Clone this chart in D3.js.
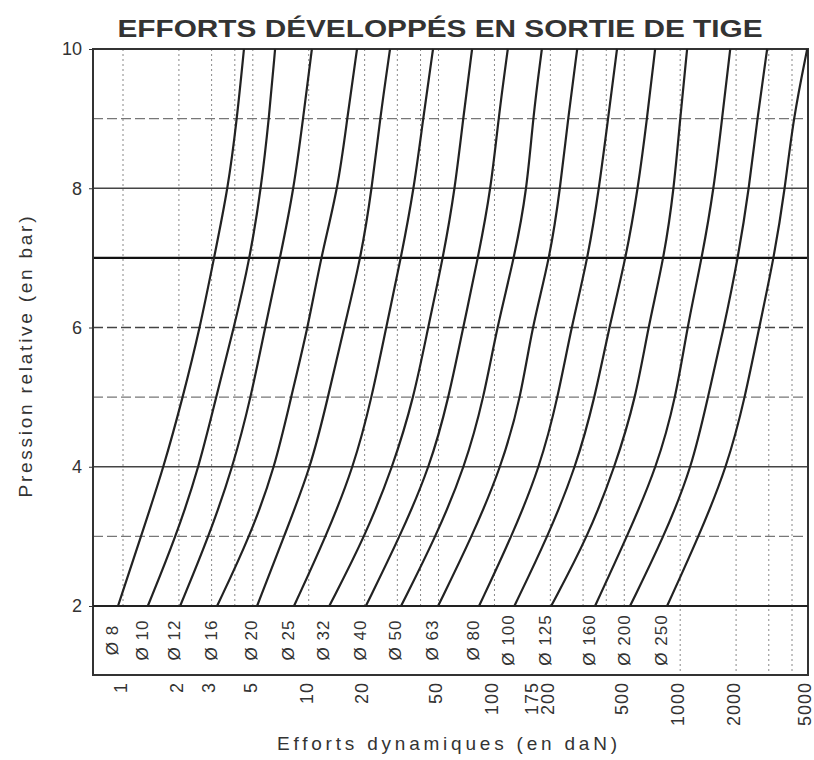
<!DOCTYPE html>
<html>
<head>
<meta charset="utf-8">
<script src="https://cdn.jsdelivr.net/npm/d3@7"></script>
<style>
  body { margin: 0; background: #fff; }
  text { font-family: "Liberation Sans", Arial, sans-serif; fill: #333; }
</style>
</head>
<body>
<script>
// pressures read on the chart (bar)
var pressures = [2, 3, 4, 5, 6, 7, 8, 9, 10];
// rod diameters (mm), one curve each
var diameters = [8, 10, 12, 16, 20, 25, 32, 40, 50, 63, 80, 100, 125, 160, 200, 250];
// dynamic effort (daN) read for each diameter, one value per pressure above
var efforts = [
  [0.94, 1.25, 1.66, 2.10, 2.60, 3.09, 3.68, 4.11, 4.48],
  [1.36, 1.93, 2.57, 3.17, 3.96, 4.83, 5.54, 6.11, 6.59],
  [2.03, 2.90, 3.91, 4.89, 5.82, 7.01, 8.33, 9.32, 10.4],
  [3.21, 4.83, 6.59, 8.03, 9.91, 11.6, 14.4, 16.1, 18.2],
  [5.27, 7.36, 10.3, 12.7, 15.5, 19.1, 21.9, 24.2, 27.4],
  [8.33, 12.4, 17.5, 21.9, 26.1, 31.4, 36.9, 41.3, 46.7],
  [12.9, 20.1, 28.4, 36.9, 43.9, 52.9, 61.4, 67.8, 75.8],
  [20.3, 31.0, 45.0, 56.9, 67.8, 81.6, 95.9, 105, 118],
  [31.4, 48.5, 69.4, 87.9, 103, 128, 150, 161, 180],
  [49.7, 75.8, 109, 139, 159, 199, 226, 249, 279],
  [82.6, 124, 176, 220, 259, 319, 366, 409, 457],
  [128, 194, 275, 348, 414, 511, 593, 663, 733],
  [202, 319, 446, 579, 671, 819, 927, 999, 1090],
  [348, 518, 751, 950, 1090, 1310, 1520, 1680, 1860],
  [537, 819, 1160, 1410, 1720, 2050, 2350, 2600, 2940],
  [850, 1260, 1790, 2240, 2660, 3200, 3670, 4060, 4830]
];
var xTicks = [1, 2, 3, 5, 10, 20, 50, 100, 175, 200, 500, 1000, 2000, 5000];
var xGrid = [1, 2, 3, 4, 5, 10, 20, 30, 40, 50, 100, 200, 300, 400, 500, 1000, 2000, 3000, 4000];
var yTicks = [2, 4, 6, 8, 10];
var yGrid = [3, 4, 5, 6, 7, 8, 9];

var W = 814, H = 760;
var plotLeft = 93, plotRight = 808, plotTop = 49, plotBottom = 675;

var svg = d3.select("body").append("svg")
  .attr("width", W)
  .attr("height", H);

var x = d3.scaleLog().domain([1, 5000]).range([123, 810]);
var y = d3.scaleLinear().domain([2, 10]).range([606, plotTop]);

// vertical dotted grid
svg.append("g")
  .selectAll("line")
  .data(xGrid)
  .enter()
  .append("line")
  .attr("x1", function (d) { return x(d); })
  .attr("x2", function (d) { return x(d); })
  .attr("y1", plotTop)
  .attr("y2", function (d) { return d >= 1000 ? plotBottom : y(2); })
  .attr("stroke", "#888")
  .attr("stroke-width", 1)
  .attr("stroke-dasharray", "2,3");

// horizontal grid
svg.append("g")
  .selectAll("line")
  .data(yGrid)
  .enter()
  .append("line")
  .attr("x1", plotLeft)
  .attr("x2", plotRight)
  .attr("y1", function (d) { return y(d); })
  .attr("y2", function (d) { return y(d); })
  .attr("stroke", function (d) { return d === 7 ? "#111" : (d % 2 === 0 ? "#444" : "#777"); })
  .attr("stroke-width", function (d) { return d === 7 ? 2.2 : 1.4; })
  .attr("stroke-dasharray", function (d) { return (d === 7 || d === 8 || d === 4) ? null : "10,4"; });

// frame and base line at 2 bar
svg.append("rect")
  .attr("x", plotLeft)
  .attr("y", plotTop)
  .attr("width", plotRight - plotLeft)
  .attr("height", plotBottom - plotTop)
  .attr("fill", "none")
  .attr("stroke", "#333")
  .attr("stroke-width", 2);
svg.append("line")
  .attr("x1", plotLeft).attr("x2", plotRight)
  .attr("y1", y(2)).attr("y2", y(2))
  .attr("stroke", "#222")
  .attr("stroke-width", 2.2);

// curves
var line = d3.line()
  .x(function (d) { return x(d[0]); })
  .y(function (d) { return y(d[1]); })
  .curve(d3.curveBasis);

svg.append("g")
  .selectAll("path")
  .data(efforts)
  .enter()
  .append("path")
  .attr("d", function (row) {
    return line(row.map(function (f, i) { return [f, pressures[i]]; }));
  })
  .attr("fill", "none")
  .attr("stroke", "#222")
  .attr("stroke-width", 2.2);

// diameter labels in the band below the curves
svg.append("g")
  .selectAll("text")
  .data(diameters)
  .enter()
  .append("text")
  .attr("transform", function (d, i) {
    return "translate(" + (x(efforts[i][0]) - 6) + ",640) rotate(-90)";
  })
  .attr("dy", ".35em")
  .attr("text-anchor", "middle")
  .style("font-size", "17px")
  .style("letter-spacing", "1px")
  .text(function (d) { return "Ø " + d; });

// y axis
var yAxis = svg.append("g")
  .attr("transform", "translate(" + plotLeft + ",0)")
  .call(d3.axisLeft(y).tickValues(yTicks).tickSize(4).tickPadding(7));
yAxis.select(".domain").remove();
yAxis.selectAll("line").attr("stroke", "#333");
yAxis.selectAll("text")
  .style("font-size", "18px")
  .style("font-family", "'Liberation Sans', Arial, sans-serif")
  .attr("fill", "#333");

// x axis
var xAxis = svg.append("g")
  .attr("transform", "translate(0," + plotBottom + ")")
  .call(d3.axisBottom(x).tickValues(xTicks).tickFormat(d3.format("d")).tickSize(0));
xAxis.select(".domain").remove();
xAxis.selectAll("text")
  .attr("transform", "rotate(-90)")
  .attr("x", -7)
  .attr("y", function (d) { return d === 175 ? -8 : (d === 5000 ? -6 : -3); })
  .attr("dy", ".35em")
  .style("text-anchor", "end")
  .style("font-size", "18px")
  .style("letter-spacing", "1px")
  .style("font-family", "'Liberation Sans', Arial, sans-serif")
  .attr("fill", "#333");

// titles
svg.append("text")
  .attr("x", 440)
  .attr("y", 37)
  .attr("text-anchor", "middle")
  .attr("textLength", 645)
  .attr("lengthAdjust", "spacingAndGlyphs")
  .style("font-size", "24px")
  .style("font-weight", "bold")
  .text("EFFORTS DÉVELOPPÉS EN SORTIE DE TIGE");

svg.append("text")
  .attr("transform", "translate(32,357) rotate(-90)")
  .attr("text-anchor", "middle")
  .attr("textLength", 281)
  .style("font-size", "19px")
  .text("Pression relative (en bar)");

svg.append("text")
  .attr("x", 447)
  .attr("y", 750)
  .attr("text-anchor", "middle")
  .attr("textLength", 340)
  .style("font-size", "19px")
  .text("Efforts dynamiques (en daN)");
</script>
</body>
</html>
